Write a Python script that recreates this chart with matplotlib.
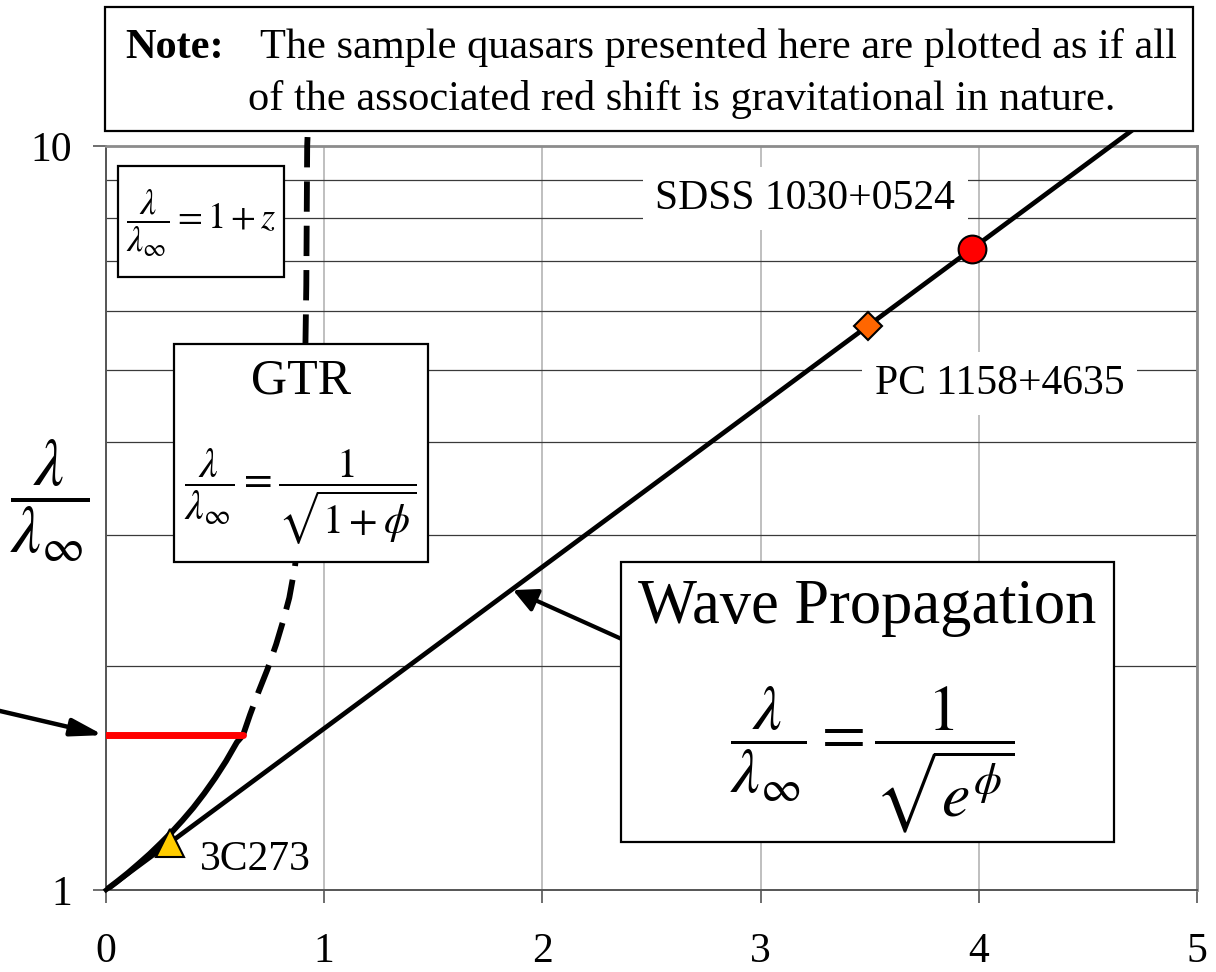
import matplotlib
matplotlib.use('Agg')
import matplotlib.pyplot as plt
from matplotlib.patches import Rectangle
from matplotlib.ticker import LogLocator, NullFormatter

plt.rcParams['font.family'] = 'Liberation Serif'
plt.rcParams['mathtext.fontset'] = 'stix'

# wave propagation line (straight on log scale)
wave_x = [0.0, 4.75]
wave_y = [1.0, 10.75]

# GTR curve, solid lower part then dashed
gtr_lo_x = [0.0, 0.05, 0.1, 0.15, 0.2, 0.25, 0.3, 0.35, 0.4, 0.45, 0.5,
            0.55, 0.6, 0.628]
gtr_lo_y = [1.0, 1.026, 1.054, 1.085, 1.118, 1.155, 1.195, 1.240, 1.29,
            1.348, 1.414, 1.49, 1.58, 1.615]
gtr_hi_x = [0.628, 0.66, 0.70, 0.74, 0.78, 0.81, 0.84, 0.866, 0.885, 0.90,
            0.91, 0.918, 0.922, 0.926]
gtr_hi_y = [1.615, 1.72, 1.85, 1.98, 2.14, 2.29, 2.47, 2.72, 3.05, 3.5,
            4.5, 6.5, 10.0, 10.7]

# red marker line
red_x = [0.0, 0.628]
red_y = [1.615, 1.615]

# quasars
q_names = ['SDSS 1030+0524', 'PC 1158+4635', '3C273']
q_x = [3.97, 3.49, 0.293]
q_y = [7.28, 5.73, 1.158]
q_mark = ['o', 'D', '^']
q_size = [20, 14.5, 19.5]
q_color = ['#ff0000', '#ff6600', '#ffcc00']

x_ticks = [0, 1, 2, 3, 4, 5]
y_ticks = [1, 10]

W, H = 1216, 972


def fx(x):
    return x / W


def fy(y):
    return 1 - y / H


def box(x0, y0, x1, y1):
    fig.add_artist(Rectangle((fx(x0), fy(y1)), fx(x1) - fx(x0), fy(y0) - fy(y1),
                             transform=fig.transFigure, facecolor='white',
                             edgecolor='black', lw=1.6, zorder=10))


fig = plt.figure(figsize=(12.16, 9.72), dpi=100)
ax = fig.add_axes([fx(106), fy(890), fx(1197) - fx(106), fy(146) - fy(890)])

ax.set_yscale('log')
ax.set_xlim(0, 5)
ax.set_ylim(1, 10)
ax.set_xticks(x_ticks)
ax.set_xticklabels([str(v) for v in x_ticks])
ax.set_yticks(y_ticks)
ax.set_yticklabels([str(v) for v in y_ticks])
ax.yaxis.set_minor_locator(LogLocator(base=10, subs=range(2, 10)))
ax.yaxis.set_minor_formatter(NullFormatter())
ax.set_axisbelow(True)
ax.yaxis.grid(True, which='minor', color='#3a3a3a', lw=0.9)
ax.xaxis.grid(True, which='major', color='#b4b4b4', lw=1.2)

ax.tick_params(axis='both', which='major', direction='out', length=9.5,
               width=1.2, color='#555555', labelsize=30)
ax.tick_params(axis='x', pad=21)
ax.tick_params(axis='y', pad=15)
ax.tick_params(which='minor', length=0)
for s in ['left', 'bottom']:
    ax.spines[s].set_color('#555555')
    ax.spines[s].set_linewidth(1.4)
for s in ['top', 'right']:
    ax.spines[s].set_color('#8c8c8c')
    ax.spines[s].set_linewidth(2)

ax.plot(wave_x, wave_y, color='black', lw=3.4, clip_on=False, zorder=3)
ax.plot(gtr_lo_x, gtr_lo_y, color='black', lw=4.2, zorder=3,
        solid_capstyle='round')
ax.plot(gtr_hi_x, gtr_hi_y, color='black', lw=4.2, clip_on=False, zorder=3,
        dashes=(5.2, 2.4))
ax.plot(red_x, red_y, color='#ff0000', lw=5, solid_capstyle='round', zorder=4)

for i in range(len(q_names)):
    ax.plot(q_x[i], q_y[i], marker=q_mark[i], ms=q_size[i], color=q_color[i],
            mec='black', mew=1.5, zorder=5, ls='none')

lab_kw = dict(textcoords='offset pixels', fontsize=30, ha='left', va='baseline',
              zorder=6)
ax.annotate(q_names[0], (q_x[0], q_y[0]), xytext=(-317, 40),
            bbox=dict(fc='white', ec='none', pad=9), **lab_kw)
ax.annotate(q_names[1], (q_x[1], q_y[1]), xytext=(7, -68),
            bbox=dict(fc='white', ec='none', pad=9), **lab_kw)
ax.annotate(q_names[2], (q_x[2], q_y[2]), xytext=(30, -27), **lab_kw)

# arrows
ax.annotate('', xy=(-0.012, 1.615), xytext=(-0.7, 1.80),
            arrowprops=dict(arrowstyle='-|>,head_length=0.8,head_width=0.22',
                            color='black', lw=3.2, mutation_scale=24,
                            shrinkA=0, shrinkB=0),
            annotation_clip=False)
ax.annotate('', xy=(1.865, 2.53), xytext=(2.37, 2.17),
            arrowprops=dict(arrowstyle='-|>,head_length=0.6,head_width=0.3',
                            color='black', lw=3.0, mutation_scale=24,
                            shrinkA=0, shrinkB=0),
            annotation_clip=False, zorder=6)

# note box
box(105, 7, 1193, 131)
fig.text(fx(125), fy(58), 'Note:', fontsize=30.5, fontweight='bold',
         va='baseline', zorder=11)
fig.text(fx(260), fy(58), 'The sample quasars presented here are plotted as if all',
         fontsize=30.5, va='baseline', zorder=11)
fig.text(fx(248), fy(110), 'of the associated red shift is gravitational in nature.',
         fontsize=30.5, va='baseline', zorder=11)

# redshift box
box(118, 166, 284, 277)
fig.text(fx(201), fy(223), r'$\dfrac{\lambda}{\lambda_\infty} = 1 + z$',
         fontsize=26, ha='center', va='center', zorder=11)

# GTR box
box(174, 344, 428, 562)
fig.text(fx(301), fy(394), 'GTR', fontsize=36, ha='center', va='baseline',
         zorder=11)
fig.text(fx(300), fy(497), r'$\dfrac{\lambda}{\lambda_\infty} = \dfrac{1}{\sqrt{1+\phi}}$',
         fontsize=30, ha='center', va='center', zorder=11)

# wave propagation box
box(621, 562, 1114, 842)
fig.text(fx(867), fy(623), 'Wave Propagation', fontsize=45, ha='center',
         va='baseline', zorder=11)
fig.text(fx(872), fy(760), r'$\dfrac{\lambda}{\lambda_\infty} = \dfrac{1}{\sqrt{e^{\phi}}}$',
         fontsize=46, ha='center', va='center', zorder=11)

# y axis label
fig.text(fx(50), fy(501), r'$\dfrac{\lambda}{\lambda_\infty}$', fontsize=48,
         ha='center', va='center')

fig.savefig('out.png', dpi=100)
